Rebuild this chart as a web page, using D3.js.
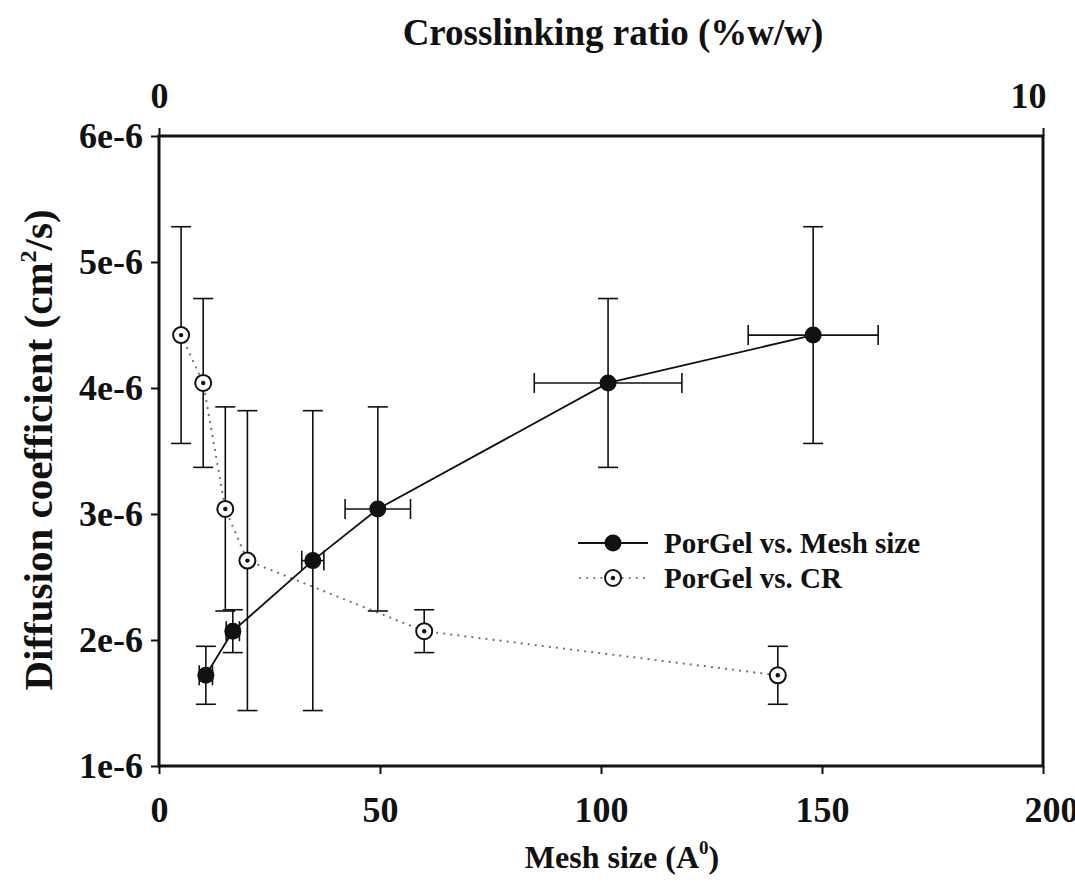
<!DOCTYPE html>
<html>
<head>
<meta charset="utf-8">
<script src="https://cdn.jsdelivr.net/npm/d3@7"></script>
<style>
  body { margin: 0; background: #fff; }
  text { font-family: "Liberation Serif", "Times New Roman", serif; font-weight: bold; fill: #111; }
</style>
</head>
<body>
<svg id="chart" width="1075" height="895"></svg>
<script>
// values (diffusion coefficient in units of 1e-6 cm2/s)
var meshSize     = [10.6, 16.7, 34.8, 49.5, 101.6, 148.0];
var meshSizeErr  = [1.5, 1.5, 2.5, 7.4, 16.7, 14.7];
var diffMesh     = [1.72, 2.07, 2.63, 3.04, 4.04, 4.42];
var diffMeshErr  = [0.23, 0.17, 1.19, 0.81, 0.67, 0.86];

var crRatio      = [0.25, 0.5, 0.75, 1, 3, 7];
var diffCR       = [4.42, 4.04, 3.04, 2.63, 2.07, 1.72];
var diffCRErr    = [0.86, 0.67, 0.81, 1.19, 0.17, 0.23];

var xTicks   = [0, 50, 100, 150, 200];
var topTicks = [0, 10];
var yTicks   = [1, 2, 3, 4, 5, 6];
var legendLabels = ["PorGel vs. Mesh size", "PorGel vs. CR"];

var m = {left: 159, right: 1043, top: 136, bottom: 766};
var svg = d3.select("#chart");

var x = d3.scaleLinear().domain([0, 200]).range([m.left, m.right]);
var xTop = d3.scaleLinear().domain([0, 10]).range([m.left, m.right]);
var y = d3.scaleLinear().domain([1, 6]).range([m.bottom, m.top]);

var meshData = meshSize.map((v, i) => ({x: x(v), y: y(diffMesh[i]), xe: meshSizeErr[i], ye: diffMeshErr[i], xv: v, yv: diffMesh[i]}));
var crData = crRatio.map((c, i) => ({x: xTop(c), y: y(diffCR[i]), ye: diffCRErr[i], yv: diffCR[i]}));

// axes
var styleAxis = function(g, size) {
    g.select(".domain").remove();
    g.selectAll(".tick line").attr("stroke", "#111").attr("stroke-width", 2);
    g.selectAll(".tick text").style("font-size", size + "px").attr("fill", "#111");
};

svg.append("g").attr("transform", "translate(0," + m.bottom + ")")
    .call(d3.axisBottom(x).tickValues(xTicks).tickSize(8).tickPadding(22).tickFormat(d3.format("d")))
    .call(g => styleAxis(g, 36))
    .call(g => g.selectAll(".tick text").attr("dx", d => d === 200 ? 8 : 0));

svg.append("g").attr("transform", "translate(0," + m.top + ")")
    .call(d3.axisTop(xTop).tickValues(topTicks).tickSize(8).tickPadding(20).tickFormat(d3.format("d")))
    .call(g => styleAxis(g, 36))
    .call(g => g.selectAll(".tick text").attr("dx", d => d === 10 ? -15 : 0));

svg.append("g").attr("transform", "translate(" + m.left + ",0)")
    .call(d3.axisLeft(y).tickValues(yTicks).tickSize(8).tickPadding(8).tickFormat(d => d + "e-6"))
    .call(g => styleAxis(g, 36));

// frame
svg.append("rect").attr("x", m.left).attr("y", m.top)
    .attr("width", m.right - m.left).attr("height", m.bottom - m.top)
    .attr("fill", "none").attr("stroke", "#111").attr("stroke-width", 3);

// titles
svg.append("text").attr("x", 613).attr("y", 45).attr("text-anchor", "middle")
    .style("font-size", "37px").text("Crosslinking ratio (%w/w)");

var xt = svg.append("text").attr("x", 622).attr("y", 868).attr("text-anchor", "middle").style("font-size", "32px");
xt.append("tspan").text("Mesh size (A");
xt.append("tspan").attr("dy", -14).style("font-size", "19px").text("0");
xt.append("tspan").attr("dy", 14).text(")");

var yt = svg.append("text").attr("transform", "translate(52,450) rotate(-90)").attr("text-anchor", "middle").style("font-size", "41px");
yt.append("tspan").text("Diffusion coefficient (cm");
yt.append("tspan").attr("dy", -16).style("font-size", "24px").text("2");
yt.append("tspan").attr("dy", 16).text("/s)");

var cap = 10;
var errStroke = function(sel) { return sel.attr("stroke", "#111").attr("stroke-width", 1.6).attr("fill", "none"); };

// CR series: dotted line, error bars, open markers
svg.append("path").datum(crData)
    .attr("d", d3.line().x(d => d.x).y(d => d.y))
    .attr("fill", "none").attr("stroke", "#777").attr("stroke-width", 2.2)
    .attr("stroke-dasharray", "0.1,7").attr("stroke-linecap", "round");

var crErr = svg.append("g").selectAll("g").data(crData).join("g");
crErr.append("line").call(errStroke)
    .attr("x1", d => d.x).attr("x2", d => d.x)
    .attr("y1", d => y(d.yv + d.ye)).attr("y2", d => y(d.yv - d.ye));
[1, -1].forEach(s => {
    crErr.append("line").call(errStroke)
        .attr("x1", d => d.x - cap).attr("x2", d => d.x + cap)
        .attr("y1", d => y(d.yv + s * d.ye)).attr("y2", d => y(d.yv + s * d.ye));
});

// Mesh series: solid line, error bars, filled markers
svg.append("path").datum(meshData)
    .attr("d", d3.line().x(d => d.x).y(d => d.y))
    .attr("fill", "none").attr("stroke", "#111").attr("stroke-width", 1.8);

var meshErr = svg.append("g").selectAll("g").data(meshData).join("g");
meshErr.append("line").call(errStroke)
    .attr("x1", d => d.x).attr("x2", d => d.x)
    .attr("y1", d => y(d.yv + d.ye)).attr("y2", d => y(d.yv - d.ye));
[1, -1].forEach(s => {
    meshErr.append("line").call(errStroke)
        .attr("x1", d => d.x - cap).attr("x2", d => d.x + cap)
        .attr("y1", d => y(d.yv + s * d.ye)).attr("y2", d => y(d.yv + s * d.ye));
});
meshErr.append("line").call(errStroke)
    .attr("x1", d => x(d.xv - d.xe)).attr("x2", d => x(d.xv + d.xe))
    .attr("y1", d => d.y).attr("y2", d => d.y);
[1, -1].forEach(s => {
    meshErr.append("line").call(errStroke)
        .attr("x1", d => x(d.xv + s * d.xe)).attr("x2", d => x(d.xv + s * d.xe))
        .attr("y1", d => d.y - cap).attr("y2", d => d.y + cap);
});

var openMarker = function(g, cx, cy) {
    g.append("circle").attr("cx", cx).attr("cy", cy).attr("r", 8)
        .attr("fill", "#fff").attr("stroke", "#111").attr("stroke-width", 2);
    g.append("circle").attr("cx", cx).attr("cy", cy).attr("r", 2.2).attr("fill", "#111");
};

svg.append("g").selectAll("circle").data(meshData).join("circle")
    .attr("cx", d => d.x).attr("cy", d => d.y).attr("r", 8.5).attr("fill", "#111");

var openG = svg.append("g");
crData.forEach(d => openMarker(openG, d.x, d.y));

// legend
var lg = svg.append("g");
lg.append("line").attr("x1", 578).attr("x2", 648).attr("y1", 543).attr("y2", 543)
    .attr("stroke", "#111").attr("stroke-width", 1.8);
lg.append("circle").attr("cx", 613).attr("cy", 543).attr("r", 8.5).attr("fill", "#111");
lg.append("line").attr("x1", 580).attr("x2", 648).attr("y1", 578).attr("y2", 578)
    .attr("stroke", "#777").attr("stroke-width", 2.2)
    .attr("stroke-dasharray", "0.1,7").attr("stroke-linecap", "round");
openMarker(lg, 613, 578);
legendLabels.forEach((t, i) => {
    lg.append("text").attr("x", 664).attr("y", 543 + i * 35).attr("dy", "0.35em")
        .style("font-size", "29px").text(t);
});
</script>
</body>
</html>
